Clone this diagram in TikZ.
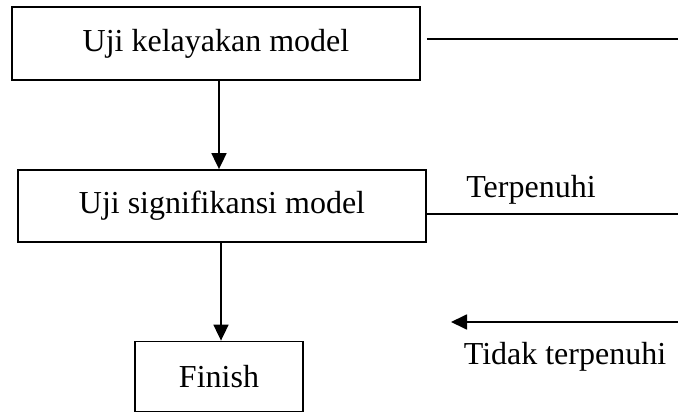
\documentclass[tikz,border=0pt]{standalone}
\usepackage{fontspec}
\setmainfont{Liberation Serif}
\usetikzlibrary{arrows.meta, positioning}
\tikzstyle{arrow}=[-{Triangle[length=16pt,width=15pt]}, line width=1.8pt]
\tikzset{
    kotak/.style={draw, line width=1.8pt, inner sep=0pt},
    garis/.style={line width=1.8pt}
}

\begin{document}
\begin{tikzpicture}[x=1pt, y=-1pt, font=\fontsize{32}{38}\selectfont]
  \useasboundingbox (0,0) rectangle (678,412);

  \node [kotak, minimum width=408pt, minimum height=73pt] (kelayakan) at (216,43.5) {Uji kelayakan model};
  \node [kotak, minimum width=408pt, minimum height=72pt] (signifikansi) at (222,206) {Uji signifikansi model};
  \node [kotak, minimum width=168pt, minimum height=70pt] (finish) at (219,376.5) {Finish};

  \node (terpenuhi) at (531,190) {Terpenuhi};
  \node (tidak) at (565,357) {Tidak terpenuhi};

  % ujung kanan
  \coordinate (kanan1) at (678,39);
  \coordinate (kanan2) at (678,214);
  \coordinate (kanan3) at (678,322);
  \coordinate (ujung) at (451,322);

  \draw [arrow] ([xshift=3pt]kelayakan.south) -- ([xshift=3pt]kelayakan.south |- signifikansi.north);
  \draw [arrow] ([xshift=-1pt]signifikansi.south) -- ([xshift=-1pt]signifikansi.south |- finish.north);

  \draw [garis] ([xshift=6pt]kelayakan.east |- kanan1) -- (kanan1);
  \draw [garis] (signifikansi.east |- kanan2) -- (kanan2);
  \draw [arrow] (kanan3) -- (ujung);
\end{tikzpicture}
\end{document}
